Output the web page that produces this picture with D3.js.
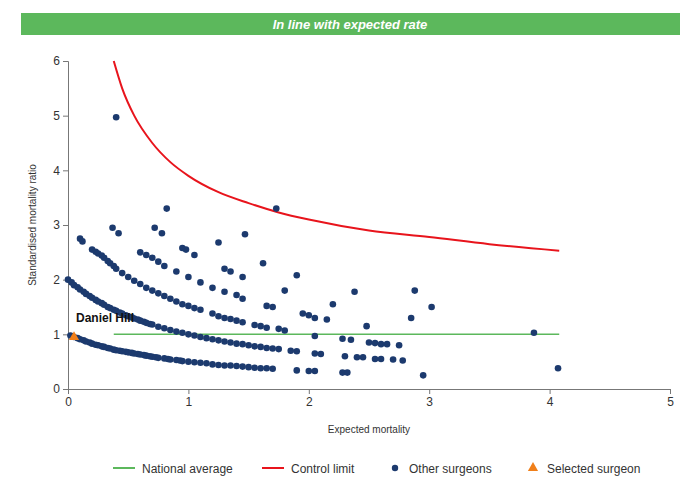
<!DOCTYPE html>
<html><head><meta charset="utf-8">
<script src="https://cdn.jsdelivr.net/npm/d3@7"></script>
<style>body{margin:0;background:#fff;font-family:"Liberation Sans",Arial,sans-serif}</style>
</head><body><svg id="c" width="700" height="500"></svg>
<script>
// --- Data ---
const bannerText = "In line with expected rate";
const xTicks = [0, 1, 2, 3, 4, 5];
const yTicks = [0, 1, 2, 3, 4, 5, 6];
const nationalAverage = { from: 0.38, to: 4.08, value: 1 };
const controlLimit = [[0.38,6],[0.45,5.5],[0.55,5.0],[0.7,4.5],[0.85,4.15],[1,3.9],[1.25,3.6],[1.5,3.4],[1.75,3.23],[2,3.1],[2.5,2.9],[3,2.78],[3.5,2.65],[4.08,2.53]];
const curveA = [[0.02,.98],[0.05,.95],[0.08,.93],[0.1,.91],[0.13,.89],[0.15,.87],[0.18,.85],[0.2,.83],[0.23,.81],[0.25,.8],[0.28,.78],[0.3,.77],[0.33,.75],[0.35,.74],[0.38,.72],[0.4,.71],[0.43,.7],[0.45,.69],[0.48,.68],[0.5,.67],[0.53,.66],[0.55,.65],[0.58,.64],[0.6,.63],[0.63,.62],[0.65,.61],[0.68,.6],[0.7,.59],[0.73,.58],[0.75,.57],[0.8,.56],[0.83,.55],[0.85,.54],[0.9,.53],[0.93,.52],[0.95,.51],[1.0,.5],[1.05,.49],[1.1,.48],[1.15,.47],[1.2,.45],[1.25,.44],[1.3,.43],[1.35,.43],[1.4,.42],[1.45,.41],[1.5,.4],[1.55,.39],[1.6,.38],[1.65,.38],[1.7,.37],[1.9,.34],[2.0,.33],[2.05,.33],[2.28,.3],[2.32,.3],[2.95,.25]];
const curveB = [[0,2],[0.03,1.95],[0.05,1.9],[0.08,1.86],[0.1,1.82],[0.13,1.78],[0.15,1.74],[0.18,1.7],[0.2,1.67],[0.23,1.63],[0.25,1.6],[0.28,1.57],[0.3,1.54],[0.33,1.5],[0.35,1.48],[0.38,1.45],[0.4,1.43],[0.43,1.4],[0.45,1.38],[0.48,1.35],[0.5,1.33],[0.53,1.31],[0.55,1.29],[0.58,1.27],[0.6,1.25],[0.63,1.23],[0.65,1.21],[0.68,1.19],[0.7,1.18],[0.75,1.14],[0.8,1.11],[0.85,1.08],[0.9,1.05],[0.95,1.03],[1.0,1.0],[1.05,.98],[1.1,.95],[1.15,.93],[1.2,.91],[1.25,.89],[1.3,.87],[1.35,.85],[1.4,.83],[1.45,.82],[1.5,.8],[1.55,.78],[1.6,.77],[1.65,.75],[1.7,.74],[1.75,.73],[1.85,.7],[1.9,.69],[2.05,.65],[2.1,.64],[2.3,.6],[2.4,.58],[2.45,.58],[2.55,.55],[2.6,.55],[2.7,.54],[2.78,.52]];
const curveC = [[0.1,2.75],[0.12,2.7],[0.2,2.55],[0.23,2.51],[0.25,2.48],[0.28,2.44],[0.3,2.4],[0.33,2.34],[0.35,2.3],[0.38,2.25],[0.4,2.2],[0.45,2.12],[0.5,2.05],[0.55,1.98],[0.6,1.92],[0.65,1.85],[0.7,1.8],[0.75,1.75],[0.8,1.7],[0.85,1.65],[0.9,1.6],[0.95,1.55],[1.0,1.52],[1.05,1.48],[1.1,1.45],[1.2,1.38],[1.25,1.33],[1.3,1.3],[1.35,1.28],[1.4,1.25],[1.45,1.22],[1.55,1.17],[1.6,1.15],[1.65,1.12],[1.75,1.1],[1.8,1.07]];
const curveD = [[0.6,2.5],[0.65,2.45],[0.7,2.4],[0.75,2.33],[0.8,2.25],[0.9,2.15],[1.0,2.05],[1.1,1.95],[1.2,1.85],[1.3,1.78],[1.4,1.72],[1.45,1.65],[1.65,1.52],[1.7,1.5]];
const scatter = [[0.4,4.97],[0.37,2.95],[0.42,2.85],[0.72,2.95],[0.78,2.85],[0.82,3.3],[0.95,2.58],[0.98,2.55],[1.05,2.45],[1.25,2.68],[1.3,2.2],[1.35,2.15],[1.45,2.05],[1.47,2.83],[1.62,2.3],[1.73,3.3],[1.8,1.8],[1.9,2.08],[1.95,1.38],[2.0,1.35],[2.05,1.3],[2.05,0.97],[2.15,1.27],[2.2,1.55],[2.38,1.78],[2.28,0.92],[2.35,0.9],[2.48,1.15],[2.5,0.85],[2.55,0.84],[2.6,0.82],[2.65,0.82],[2.75,0.8],[2.85,1.3],[2.88,1.8],[3.02,1.5],[3.87,1.03],[4.07,0.38]];
const selected = { name: "Daniel Hill", x: 0.05, y: 0.95 };
const legendItems = ["National average", "Control limit", "Other surgeons", "Selected surgeon"];

// --- Setup ---
const svg = d3.select("#c");
const x = d3.scaleLinear().domain([0, 5]).range([68, 670]);
const y = d3.scaleLinear().domain([0, 6]).range([389, 61]);

svg.append("rect").attr("x", 21).attr("y", 13).attr("width", 659).attr("height", 22).attr("fill", "#5cb85c");
svg.append("text").attr("x", 350).attr("y", 29).attr("text-anchor", "middle").attr("fill", "#fff")
  .style("font-weight", "bold").style("font-style", "italic").style("font-size", "13px").text(bannerText);

const xAxis = svg.append("g").attr("transform", "translate(0,389)")
  .call(d3.axisBottom(x).tickValues(xTicks).tickSize(5).tickFormat(d3.format("d")));
const yAxis = svg.append("g").attr("transform", "translate(68,0)")
  .call(d3.axisLeft(y).tickValues(yTicks).tickSize(5).tickFormat(d3.format("d")));
[xAxis, yAxis].forEach(a => {
  a.selectAll("path,line").attr("stroke", "#777");
  a.selectAll("text").style("font-size", "12px").style("font-family", "Liberation Sans, Arial, sans-serif").attr("fill", "#333");
});

svg.append("text").attr("x", 369).attr("y", 433).attr("text-anchor", "middle").style("font-size", "10px").attr("fill", "#333").text("Expected mortality");
svg.append("text").attr("transform", "translate(36,225) rotate(-90)").attr("text-anchor", "middle").style("font-size", "10px").attr("fill", "#333").text("Standardised mortality ratio");

// --- Lines ---
svg.append("line").attr("x1", x(nationalAverage.from)).attr("x2", x(nationalAverage.to))
  .attr("y1", y(nationalAverage.value)).attr("y2", y(nationalAverage.value)).attr("stroke", "#5cb85c").attr("stroke-width", 1.5);
svg.append("path").datum(controlLimit).attr("fill", "none").attr("stroke", "#e8141c").attr("stroke-width", 2)
  .attr("d", d3.line().x(d => x(d[0])).y(d => y(d[1])).curve(d3.curveMonotoneX));

// --- Dots ---
const allDots = [...curveA, ...curveB, ...curveC, ...curveD, ...scatter];
svg.append("g").selectAll("circle").data(allDots).join("circle")
  .attr("cx", d => x(d[0])).attr("cy", d => y(d[1])).attr("r", 3.3).attr("fill", "#1c3a6e");

const tri = d3.symbol().type(d3.symbolTriangle).size(45);
svg.append("path").attr("d", tri()).attr("transform", `translate(${x(selected.x)},${y(selected.y)})`).attr("fill", "#f07f1a");
svg.append("text").attr("x", 76).attr("y", 322).style("font-weight", "bold").style("font-size", "12px").attr("fill", "#111").text(selected.name);

// --- Legend ---
const lg = svg.append("g").style("font-size", "12px");
const lx = [113, 262, 389, 527];
legendItems.forEach((t, i) => {
  const g = lg.append("g").attr("transform", `translate(${lx[i]},468)`);
  if (i === 0) g.append("line").attr("x1", 0).attr("x2", 22).attr("stroke", "#5cb85c").attr("stroke-width", 2);
  if (i === 1) g.append("line").attr("x1", 0).attr("x2", 22).attr("stroke", "#e8141c").attr("stroke-width", 2);
  if (i === 2) g.append("circle").attr("cx", 6).attr("r", 3.2).attr("fill", "#1c3a6e");
  if (i === 3) g.append("path").attr("d", tri()).attr("transform", "translate(6,0)").attr("fill", "#f07f1a");
  g.append("text").attr("x", i < 2 ? 29 : 20).attr("y", 4.5).attr("fill", "#333").text(t);
});
</script></body></html>
